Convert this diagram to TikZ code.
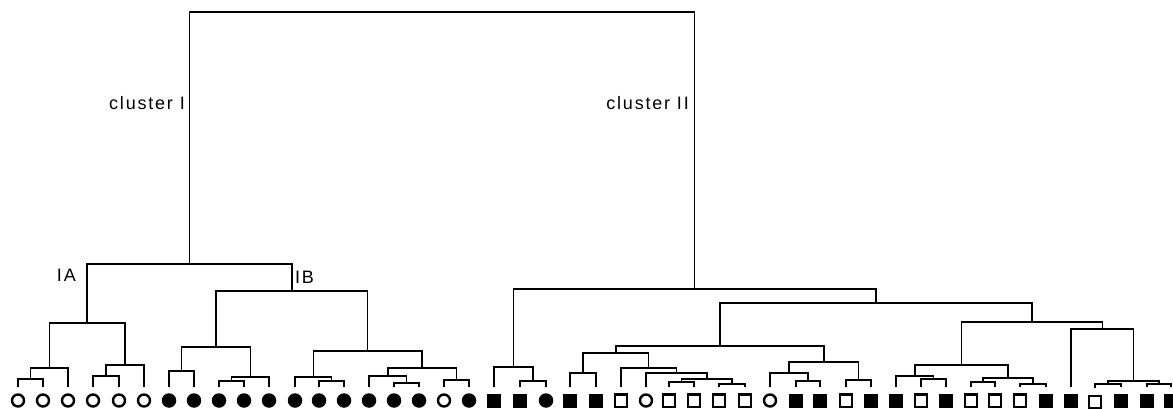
\documentclass[tikz,border=0pt]{standalone}
\usepackage{fontspec}
\setmainfont{Liberation Sans}
\newfontfamily\lblfont[LetterSpace=10]{Liberation Sans}
\usetikzlibrary{calc}

\tikzset{
  branch/.style={line width=1.5pt},
  leaf/.style={inner sep=0pt, minimum size=14.5pt, outer sep=6.75pt},
  oc/.style={leaf, circle, draw, line width=2.4pt, minimum size=12pt, outer sep=8pt},
  fc/.style={leaf, circle, fill},
  os/.style={leaf, rectangle, draw, line width=2.2pt, minimum size=12.2pt, outer sep=7.9pt},
  osl/.style={os, yshift=-1.5pt},
  fs/.style={leaf, rectangle, fill, minimum size=14pt, outer sep=7pt},
  lbl/.style={font=\lblfont\fontsize{18}{18}\selectfont, inner sep=0pt},
}

\begin{document}
\begin{tikzpicture}[x=1pt,y=-1pt]
  \useasboundingbox (0,0) rectangle (1173,409);

  % leaves
  \foreach \x/\s [count=\i] in {18/oc, 43/oc, 68/oc, 93/oc, 119/oc, 144/oc,
      169/fc, 194/fc, 219/fc, 244/fc, 269/fc, 295/fc, 319/fc, 344/fc, 369/fc,
      394/fc, 419/fc, 444/oc, 469/fc, 494/fs, 520/fs, 546/fc, 570/fs, 596/fs,
      621/os, 646/oc, 669/os, 694/os, 719/os, 745/os, 770/oc, 796/fs, 820/fs,
      846/os, 871/fs, 896/fs, 921/os, 946/fs, 971/os, 995/os, 1020/os, 1046/fs,
      1071/fs, 1095/osl, 1121/fs, 1147/fs, 1171/fs}
    \node[\s] (l\i) at (\x,400.5) {};

  % merges: name/left/right/height
  \foreach \n/\a/\b/\h in {a1/l1/l2/379, a2/a1/l3/368, a3/l4/l5/376, a4/a3/l6/365,
      IA/a2/a4/323,
      b1/l7/l8/371, b2/l9/l10/381, b3/b2/l11/377, b4/b1/b3/347,
      b5/l13/l14/381, b6/l12/b5/377, b7/l16/l17/383, b8/l15/b7/376,
      b9/l18/l19/380, b10/b8/b9/368, b11/b6/b10/351,
      IB/b4/b11/291, cI/IA/IB/264,
      c1/l21/l22/381, c2/l20/c1/367,
      d1/l23/l24/373, d2/l27/l28/382, d3/l29/l30/384, d4/d2/d3/379,
      d5/l26/d4/373, d6/l25/d5/368, d7/d1/d6/353,
      d8/l32/l33/381, d9/l31/d8/373, d10/l34/l35/380, d11/d9/d10/362,
      d12/d7/d11/346,
      e1/l37/l38/379, e2/l36/e1/376, e3/l39/l40/382, e4/l41/l42/384,
      e5/e3/e4/378, e6/e2/e5/365,
      e7/l44/l45/384, e8/l46/l47/384, e9/e7/e8/381, e10/l43/e9/329,
      e11/e6/e10/322, e12/d12/e11/303,
      cII/c2/e12/289, root/cI/cII/12} {
    \coordinate (mid) at ($(\a)!.5!(\b)$);
    \coordinate (\n) at (mid |- 0,\h);
    \draw[branch] (\a) |- (\n) -| (\b);
  }

  \node[lbl, anchor=east] (labI) at (185,103) {cluster I};
  \node[lbl, anchor=east] (labII) at (689,103) {cluster II};
  \node[lbl, anchor=east] (labIA) at (76,275) {IA};
  \node[lbl, anchor=west] (labIB) at (295,277) {IB};
\end{tikzpicture}
\end{document}
